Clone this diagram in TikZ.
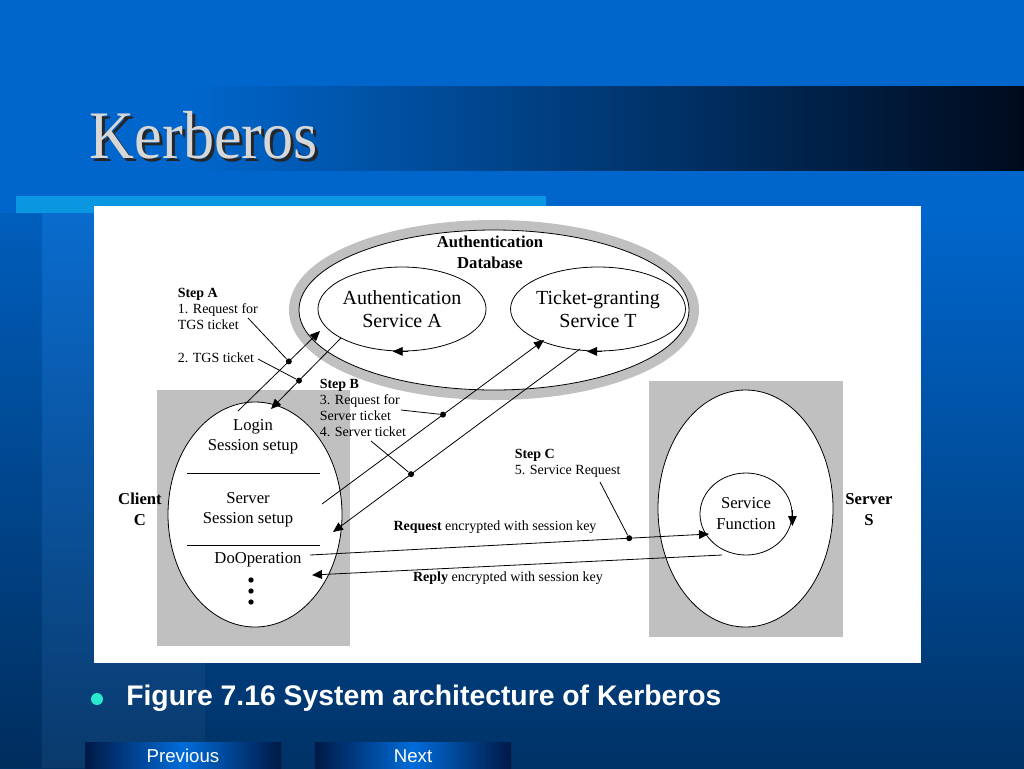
\documentclass[tikz,border=0pt]{standalone}
\usepackage{fontspec}
\setmainfont{Liberation Serif}
\setsansfont{Liberation Sans}
\newfontfamily\titlefont[FakeStretch=0.915]{Liberation Serif}
\usetikzlibrary{shapes.geometric,arrows.meta}
\definecolor{bgtop}{RGB}{0,102,204}
\definecolor{bgbot}{RGB}{0,50,102}
\definecolor{bandend}{RGB}{0,10,28}
\definecolor{barblue}{RGB}{10,150,225}
\definecolor{boxgray}{RGB}{192,192,192}
\definecolor{bulletcyan}{RGB}{40,232,205}
\definecolor{btndark}{RGB}{0,25,70}
\definecolor{btnlight}{RGB}{0,108,218}
\definecolor{titlegray}{RGB}{215,215,215}

\begin{document}
\begin{tikzpicture}
  [x=0.75pt,y=-0.75pt,
%  dbell/.style={ellipse,draw=black,fill=white,thick},
  dbell/.style={ellipse,draw=black,fill=white,line width=0.6pt,
                  preaction={draw=boxgray,line width=15pt},
                  minimum width=292.5pt,minimum height=120pt,inner sep=0},
  svc/.style={ellipse,draw=black,fill=white,line width=0.6pt,align=center,
                  minimum width=123pt,minimum height=63pt,inner sep=0,
                  font=\fontsize{15}{17.25}\selectfont},
  hostbox/.style={rectangle,fill=boxgray,minimum width=144.75pt,
                  minimum height=192pt,inner sep=0},
  hostell/.style={ellipse,draw=black,fill=white,line width=0.6pt,
                  minimum width=130.5pt,minimum height=168.75pt,inner sep=0},
  fn/.style={ellipse,draw=black,fill=white,line width=0.6pt,align=center,
                  minimum width=69pt,minimum height=61.5pt,inner sep=0,
                  font=\fontsize{12.5}{15.75}\selectfont},
  sect/.style={align=center,inner sep=0,font=\fontsize{12.5}{15}\selectfont},
  hostlbl/.style={align=center,inner sep=0,
                  font=\bfseries\fontsize{12.5}{15.75}\selectfont},
  dblbl/.style={align=center,inner sep=0,
                  font=\bfseries\fontsize{12.5}{15.75}\selectfont},
  note/.style={anchor=west,align=left,inner sep=0,
                  font=\fontsize{10.5}{12}\selectfont},
  msgl/.style={inner sep=0,font=\fontsize{10.5}{12}\selectfont},
  msg/.style={-{Triangle[length=7.5pt,width=6.5pt]},line width=0.6pt},
  lead/.style={line width=0.6pt},
  bdot/.style={circle,fill=black,minimum size=4.5pt,inner sep=0},
  btn/.style={rectangle,minimum width=147pt,minimum height=21pt,inner sep=0,
                  left color=btndark,right color=btndark,middle color=btnlight,
                  text=white,font=\sffamily\fontsize{14}{14}\selectfont}
                  ]
  \useasboundingbox (0,0) rectangle (1024,768);

% slide background
  \fill[bgtop] (0,0) rectangle (1024,213);
  \shade[top color=bgtop,bottom color=bgbot] (0,213) rectangle (1024,768);
  \fill[black,opacity=0.08] (0,213) rectangle (42,768);
  \fill[white,opacity=0.04] (42,213) rectangle (205,768);
  \shade[left color=bgtop,right color=bandend] (190,86) rectangle (1024,170);
  \fill[barblue] (16,196) rectangle (546,213);
  \fill[white] (94,206) rectangle (921,663);

% title
  \node[text=black!85,font=\titlefont\fontsize{51}{51}\selectfont] (titleshd) at (207,138) {Kerberos};
  \node[text=titlegray,font=\titlefont\fontsize{51}{51}\selectfont] (title) at (204,135) {Kerberos};

% hosts and services
  \node[hostbox] (cbox) at (253.5,518) {};
  \node[hostbox,minimum width=145.5pt] (sbox) at (746,509) {};
  \node[dbell] (db) at (494,310) {};
  \node[dblbl] (dbtext) at (490,252.5) {Authentication\\Database};
  \node[svc] (authA) at (402,309) {Authentication\\Service A};
  \node[svc,minimum width=124.5pt] (tgs) at (598,309) {Ticket-granting\\Service T};
  \node[hostell] (client) at (255,514.5) {};
  \node[hostell,minimum width=131.25pt,minimum height=177.75pt] (server) at (745.5,508.5) {};
  \node[fn] (sfun) at (746,514) {Service\\Function};
  \node[hostlbl] (clbl) at (140,509.5) {Client\\C};
  \node[hostlbl] (slbl) at (869,509.5) {Server\\S};

% client sections
  \node[sect] (login) at (253,437) {Login\\Session setup};
  \node[sect] (srvset) at (248,509.5) {Server\\Session setup};
  \node[sect] (doop) at (258,560) {DoOperation};
  \foreach \y in {580,591,602}
    \node[bdot,minimum size=4pt] (more\y) at (251,\y) {};
  \coordinate (s1a) at (187,473);
  \coordinate (s1b) at (320,473);
  \coordinate (s2a) at (187,545);
  \coordinate (s2b) at (320,545);
  \draw[lead] (s1a) to (s1b);
  \draw[lead] (s2a) to (s2b);

% turning arrows on the services
  \draw[msg] ([xshift=4.5pt]authA.south) to ([xshift=-7pt]authA.south);
  \draw[msg] ([xshift=3pt]tgs.south) to ([xshift=-8.25pt]tgs.south);
  \draw[msg] ([yshift=3pt]sfun.east) to ([yshift=-9pt]sfun.east);

% notes
  \node[note] (stepA) at (177.5,308.5) {\textbf{Step A}\\1. Request for\\TGS ticket};
  \node[note] (tgst) at (177.5,358) {2. TGS ticket};
  \node[note] (stepB) at (319.5,407.5) {\textbf{Step B}\\3. Request for\\Server ticket\\4. Server ticket};
  \node[note] (stepC) at (514.5,463) {\textbf{Step C}\\5. Service Request};
  \node[msgl] (reql) at (495,527) {\textbf{Request} encrypted with session key};
  \node[msgl] (repl) at (508,578) {\textbf{Reply} encrypted with session key};

% message ends
  \coordinate (c1) at (238,411);
  \coordinate (a1) at (320,331);
  \coordinate (a2) at (341,338);
  \coordinate (c2) at (271,409);
  \coordinate (c3) at (322,504);
  \coordinate (t3) at (544,340);
  \coordinate (t4) at (580,349);
  \coordinate (c4) at (333,532);
  \coordinate (c5) at (310,555);
  \coordinate (s5) at (709,534);
  \coordinate (s6) at (722,555);
  \coordinate (c6) at (312,575);
  \coordinate (nA1) at (248,318);
  \coordinate (nA2) at (258,359);
  \coordinate (nB3) at (401,410);
  \coordinate (nB4) at (371,441);
  \coordinate (nC5) at (600,482);

  \draw[msg] (c1) -- node[bdot,pos=0.62] (dA1) {} (a1);
  \draw[msg] (a2) -- node[bdot,pos=0.6] (dA2) {} (c2);
  \draw[msg] (c3) -- node[bdot,pos=0.545] (dB3) {} (t3);
  \draw[msg] (t4) -- node[bdot,pos=0.684] (dB4) {} (c4);
  \draw[msg] (c5) -- node[bdot,pos=0.8] (dC5) {} (s5);
  \draw[msg] (s6) to (c6);
  \draw[lead] (nA1) to (dA1);
  \draw[lead] (nA2) to (dA2);
  \draw[lead] (nB3) to (dB3);
  \draw[lead] (nB4) to (dB4);
  \draw[lead] (nC5) to (dC5);

% caption and buttons
  \node[circle,fill=bulletcyan,minimum size=9pt,inner sep=0] (bul) at (97,699) {};
  \node[anchor=west,inner sep=0,text=white,
        font=\sffamily\bfseries\fontsize{21.25}{21.25}\selectfont] (cap) at (126,698)
        {Figure 7.16 System architecture of Kerberos};
  \node[btn] (prev) at (183,756) {Previous};
  \node[btn] (next) at (413,756) {Next};
\end{tikzpicture}
\end{document}
